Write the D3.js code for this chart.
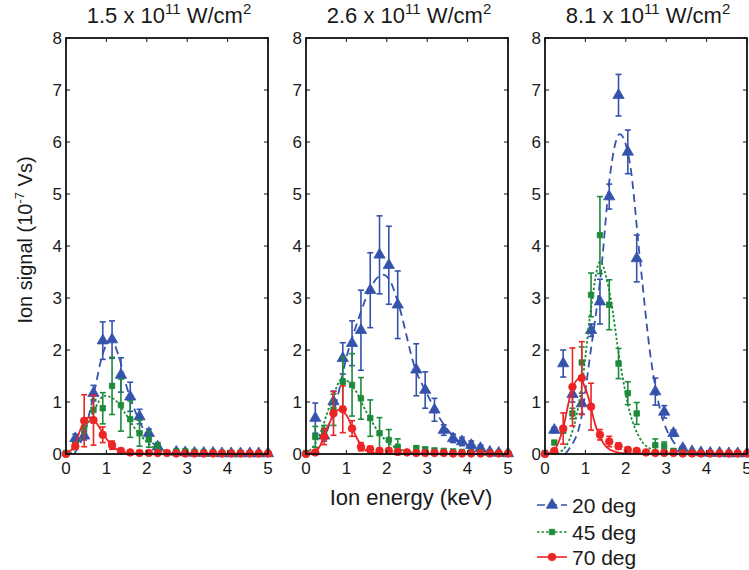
<!DOCTYPE html>
<html>
<head>
<meta charset="utf-8">
<script src="https://cdn.jsdelivr.net/npm/d3@7"></script>
<style>
body { margin: 0; background: #fff; }
text { font-family: "Liberation Sans", Arial, Helvetica, sans-serif; fill: #1a1a1a; }
</style>
</head>
<body>
<svg id="chart" width="749" height="570"></svg>
<script>
// ion energy grid (keV), shared by all panels
var energy = [0, 0.23, 0.45, 0.68, 0.91, 1.14, 1.36, 1.59, 1.82, 2.05, 2.27, 2.5, 2.73, 2.95, 3.18, 3.41, 3.64, 3.86, 4.09, 4.32, 4.55, 4.77, 5.0];

var panelIntensity = ["1.5", "2.6", "8.1"];
var xTicks = [0, 1, 2, 3, 4, 5];
var yTicks = [0, 1, 2, 3, 4, 5, 6, 7, 8];
var seriesNames = ["20 deg", "45 deg", "70 deg"];

// 1.5 x 10^11 W/cm^2
var blue15 = [null, 0.3, 0.35, 1.17, 2.18, 2.2, 1.52, 1.1, 0.72, 0.4, 0.14, null, 0.04, 0.03, 0.02, 0.02, 0.02, 0.01, 0.01, 0.01, 0.01, 0.01, 0.01];
var blueErr15 = [0, 0.08, 0.08, 0.15, 0.36, 0.36, 0.33, 0.28, 0.14, 0.08, 0.05, 0, 0.03, 0.02, 0.02, 0.02, 0.01, 0.01, 0.01, 0.01, 0.01, 0.01, 0.01];
var green15 = [0.02, 0.17, 0.5, 0.85, 0.88, 1.31, 0.94, 0.67, 0.4, 0.28, 0.14, null, 0.05, 0.05, 0.04, 0.03, 0.03, 0.02, 0.02, 0.02, 0.01, 0.01, 0.01];
var greenErr15 = [0, 0.05, 0.1, 0.2, 0.3, 0.55, 0.5, 0.35, 0.25, 0.15, 0.08, 0, 0.03, 0.03, 0.02, 0.02, 0.02, 0.01, 0.01, 0.01, 0.01, 0.01, 0.01];
var red15 = [0, 0.15, 0.64, 0.65, 0.37, 0.17, 0.06, 0.03, 0.02, 0.02, 0.02, 0.02, 0.01, 0.01, 0.01, 0.01, 0.01, 0.01, 0.01, 0.01, 0.01, 0.01, 0.01];
var redErr15 = [0, 0.05, 0.5, 0.48, 0.15, 0.08, 0.03, 0.02, 0.02, 0.02, 0.01, 0.01, 0.01, 0.01, 0.01, 0.01, 0.01, 0.01, 0.01, 0.01, 0.01, 0.01, 0.01];
var blueFit15 = [[0.2, 0], [0.45, 0.4], [0.7, 1.2], [0.9, 1.9], [1.1, 2.2], [1.3, 1.9], [1.5, 1.3], [1.7, 0.85], [1.9, 0.5], [2.1, 0.25], [2.4, 0.08], [2.7, 0.01], [5, 0]];
var greenFit15 = [[0.1, 0], [0.4, 0.35], [0.7, 0.85], [0.95, 1.12], [1.2, 1.05], [1.45, 0.8], [1.7, 0.5], [1.95, 0.27], [2.2, 0.11], [2.5, 0.03], [2.8, 0], [5, 0]];
var redFit15 = [[0, 0], [0.2, 0.15], [0.4, 0.55], [0.55, 0.7], [0.75, 0.6], [0.95, 0.35], [1.15, 0.15], [1.35, 0.05], [1.6, 0.01], [2, 0], [5, 0]];

// 2.6 x 10^11 W/cm^2
var blue26 = [null, 0.69, 0.35, 1.01, 1.84, 2.13, 2.38, 3.15, 3.83, 3.63, 2.87, null, 1.62, 1.23, 0.85, 0.46, 0.3, 0.24, 0.17, 0.11, 0.04, 0.02, 0.01];
var blueErr26 = [0, 0.29, 0.1, 0.2, 0.3, 0.43, 0.77, 0.72, 0.75, 0.75, 0.65, 0, 0.5, 0.35, 0.22, 0.1, 0.08, 0.08, 0.08, 0.06, 0.04, 0.03, 0.02];
var green26 = [0.02, 0.33, 0.45, 0.85, 1.39, 1.33, 1.07, 0.69, 0.4, 0.27, 0.14, null, 0.11, 0.09, 0.07, 0.06, 0.05, 0.04, 0.03, 0.03, 0.02, 0.02, 0.01];
var greenErr26 = [0, 0.2, 0.1, 0.3, 0.48, 0.6, 0.4, 0.35, 0.3, 0.2, 0.15, 0, 0.05, 0.04, 0.03, 0.03, 0.02, 0.02, 0.02, 0.02, 0.01, 0.01, 0.01];
var red26 = [0, 0.03, 0.33, 0.78, 0.86, 0.49, 0.14, 0.09, 0.06, 0.06, 0.04, 0.03, 0.02, 0.02, 0.02, 0.02, 0.01, 0.01, 0.01, 0.01, 0.01, 0.01, 0.01];
var redErr26 = [0, 0.02, 0.15, 0.42, 0.45, 0.15, 0.08, 0.06, 0.05, 0.05, 0.03, 0.02, 0.02, 0.02, 0.01, 0.01, 0.01, 0.01, 0.01, 0.01, 0.01, 0.01, 0.01];
var blueFit26 = [[0.2, 0], [0.5, 0.4], [0.75, 1.0], [1.0, 1.85], [1.3, 2.6], [1.6, 3.2], [1.9, 3.45], [2.1, 3.3], [2.3, 2.85], [2.7, 1.65], [3.0, 1.15], [3.3, 0.7], [3.7, 0.3], [4.2, 0.1], [4.8, 0.01], [5, 0]];
var greenFit26 = [[0, 0], [0.3, 0.3], [0.6, 0.95], [0.9, 1.45], [1.2, 1.25], [1.5, 0.8], [1.8, 0.42], [2.1, 0.18], [2.5, 0.05], [2.9, 0], [5, 0]];
var redFit26 = [[0, 0], [0.3, 0.1], [0.55, 0.55], [0.8, 0.85], [1.0, 0.75], [1.2, 0.4], [1.4, 0.12], [1.6, 0.03], [2, 0], [5, 0]];

// 8.1 x 10^11 W/cm^2
var blue81 = [null, 0.46, 1.74, 1.15, 0.97, 2.38, 2.93, 4.95, 6.9, 5.81, 3.76, null, 1.2, 0.81, 0.4, 0.11, 0.05, 0.03, 0.02, 0.02, 0.01, 0.01, 0.01];
var blueErr81 = [0, 0.05, 0.26, 0.15, 0.2, 0.12, 0.43, 0.24, 0.4, 0.42, 0.45, 0, 0.26, 0.12, 0.06, 0.04, 0.02, 0.02, 0.01, 0.01, 0.01, 0.01, 0.01];
var green81 = [0.02, 0.22, 0.45, 0.78, 1.76, 3.06, 4.21, 2.87, 1.74, 1.17, 0.78, null, 0.17, 0.15, 0.06, 0.03, 0.02, 0.01, 0.01, 0.01, 0.01, 0.01, 0.01];
var greenErr81 = [0, 0.03, 0.05, 0.1, 0.3, 0.42, 0.74, 0.48, 0.29, 0.22, 0.21, 0, 0.12, 0.08, 0.04, 0.02, 0.01, 0.01, 0.01, 0.01, 0.01, 0.01, 0.01];
var red81 = [0, 0.06, 0.49, 1.29, 1.46, 0.91, 0.37, 0.24, 0.15, 0.08, 0.06, 0.03, 0.02, 0.02, 0.02, 0.01, 0.01, 0.01, 0.01, 0.01, 0.01, 0.01, 0.01];
var redErr81 = [0, 0.03, 0.3, 0.75, 0.7, 0.45, 0.1, 0.1, 0.06, 0.05, 0.04, 0.02, 0.02, 0.01, 0.01, 0.01, 0.01, 0.01, 0.01, 0.01, 0.01, 0.01, 0.01];
var blueFit81 = [[0.5, 0], [0.6, 0.1], [0.9, 0.7], [1.1, 1.8], [1.4, 3.6], [1.6, 5.3], [1.85, 6.15], [2.1, 5.6], [2.35, 3.75], [2.6, 1.95], [2.85, 0.85], [3.15, 0.27], [3.45, 0.08], [3.8, 0.01], [5, 0]];
var greenFit81 = [[0.3, 0], [0.6, 0.27], [0.91, 1.3], [1.14, 2.8], [1.36, 3.7], [1.6, 3.1], [1.86, 1.75], [2.1, 0.8], [2.35, 0.3], [2.65, 0.08], [3.0, 0], [5, 0]];
var redFit81 = [[0, 0], [0.2, 0.05], [0.45, 0.5], [0.65, 1.2], [0.85, 1.45], [1.05, 1.15], [1.25, 0.55], [1.45, 0.2], [1.7, 0.05], [2.0, 0.01], [5, 0]];

var colors = { blue: "#3552ad", green: "#1d8a3c", red: "#ec2423" };

var panels = [
    { left: 66, intensity: panelIntensity[0],
      series: [
        { color: colors.blue, shape: "tri", dash: "8,5", values: blue15, err: blueErr15, fit: blueFit15 },
        { color: colors.green, shape: "sq", dash: "2.5,2", values: green15, err: greenErr15, fit: greenFit15 },
        { color: colors.red, shape: "circ", dash: null, values: red15, err: redErr15, fit: redFit15 } ] },
    { left: 306, intensity: panelIntensity[1],
      series: [
        { color: colors.blue, shape: "tri", dash: "8,5", values: blue26, err: blueErr26, fit: blueFit26 },
        { color: colors.green, shape: "sq", dash: "2.5,2", values: green26, err: greenErr26, fit: greenFit26 },
        { color: colors.red, shape: "circ", dash: null, values: red26, err: redErr26, fit: redFit26 } ] },
    { left: 545, intensity: panelIntensity[2],
      series: [
        { color: colors.blue, shape: "tri", dash: "8,5", values: blue81, err: blueErr81, fit: blueFit81 },
        { color: colors.green, shape: "sq", dash: "2.5,2", values: green81, err: greenErr81, fit: greenFit81 },
        { color: colors.red, shape: "circ", dash: null, values: red81, err: redErr81, fit: redFit81 } ] }
];

var svg = d3.select("#chart");
var plotTop = 38, plotBottom = 454, panelWidth = 202;

var y = d3.scaleLinear().domain([0, 8]).range([plotBottom, plotTop]);

var symbols = {
    tri: d3.symbol().type(d3.symbolTriangle).size(55),
    sq: d3.symbol().type(d3.symbolSquare).size(30),
    circ: d3.symbol().type(d3.symbolCircle).size(46)
};

function drawMarker(g, shape, color, cx, cy)
{
    g.append("path")
        .attr("d", symbols[shape]())
        .attr("transform", "translate(" + cx + "," + cy + ")")
        .attr("fill", color)
        .attr("stroke", color)
        .attr("stroke-width", 0.8);
}

function drawPanel(p)
{
    var x = d3.scaleLinear().domain([0, 5]).range([p.left, p.left + panelWidth]);
    var g = svg.append("g");

    var line = d3.line()
        .x(function (d) { return x(d[0]); })
        .y(function (d) { return y(d[1]); })
        .curve(d3.curveMonotoneX);

    for (const s of p.series)
    {
        g.append("path")
            .datum(s.fit)
            .attr("d", line)
            .attr("fill", "none")
            .attr("stroke", s.color)
            .attr("stroke-width", 1.8)
            .attr("stroke-dasharray", s.dash);

        energy.forEach(function (e, i)
        {
            var v = s.values[i];
            if (v === null) return;
            var err = s.err[i];
            var cx = x(e);
            if (err > 0.03)
            {
                g.append("line")
                    .attr("x1", cx).attr("x2", cx)
                    .attr("y1", y(v - err)).attr("y2", y(v + err))
                    .attr("stroke", s.color).attr("stroke-width", 1.6);
                [v - err, v + err].forEach(function (yy)
                {
                    g.append("line")
                        .attr("x1", cx - 3).attr("x2", cx + 3)
                        .attr("y1", y(yy)).attr("y2", y(yy))
                        .attr("stroke", s.color).attr("stroke-width", 1.6);
                });
            }
            drawMarker(g, s.shape, s.color, cx, y(v));
        });
    }

    // box with inward ticks, matlab style
    var ax = svg.append("g");
    ax.append("rect")
        .attr("x", p.left).attr("y", plotTop)
        .attr("width", panelWidth).attr("height", plotBottom - plotTop)
        .attr("fill", "none").attr("stroke", "#111").attr("stroke-width", 1.8);

    xTicks.forEach(function (t)
    {
        ax.append("line").attr("x1", x(t)).attr("x2", x(t)).attr("y1", plotBottom).attr("y2", plotBottom - 4)
            .attr("stroke", "#111").attr("stroke-width", 1);
        ax.append("line").attr("x1", x(t)).attr("x2", x(t)).attr("y1", plotTop).attr("y2", plotTop + 4)
            .attr("stroke", "#111").attr("stroke-width", 1);
        ax.append("text")
            .attr("x", x(t)).attr("y", plotBottom + 20)
            .attr("text-anchor", "middle")
            .style("font-size", "17px")
            .text(t);
    });

    yTicks.forEach(function (t)
    {
        ax.append("line").attr("x1", p.left).attr("x2", p.left + 4).attr("y1", y(t)).attr("y2", y(t))
            .attr("stroke", "#111").attr("stroke-width", 1);
        ax.append("line").attr("x1", p.left + panelWidth).attr("x2", p.left + panelWidth - 4).attr("y1", y(t)).attr("y2", y(t))
            .attr("stroke", "#111").attr("stroke-width", 1);
        ax.append("text")
            .attr("x", p.left - 4).attr("y", y(t))
            .attr("dy", "0.36em")
            .attr("text-anchor", "end")
            .style("font-size", "17px")
            .text(t);
    });

    var title = svg.append("text")
        .attr("x", p.left + panelWidth / 2 + 2).attr("y", 23)
        .attr("text-anchor", "middle")
        .style("font-size", "22px");
    title.append("tspan").text(p.intensity + " x 10");
    title.append("tspan").attr("dy", -9).style("font-size", "15px").text("11");
    title.append("tspan").attr("dy", 9).text(" W/cm");
    title.append("tspan").attr("dy", -9).style("font-size", "15px").text("2");
}

panels.forEach(drawPanel);

// axis titles
var yTitle = svg.append("text")
    .attr("transform", "translate(32,240) rotate(-90)")
    .attr("text-anchor", "middle")
    .style("font-size", "20px");
yTitle.append("tspan").text("Ion signal (10");
yTitle.append("tspan").attr("dy", -8).style("font-size", "13px").text("-7");
yTitle.append("tspan").attr("dy", 8).text(" Vs)");

svg.append("text")
    .attr("x", 411).attr("y", 505)
    .attr("text-anchor", "middle")
    .style("font-size", "22px")
    .text("Ion energy (keV)");

// legend
var legendY = [505, 532, 557];
panels[0].series.forEach(function (s, i)
{
    var ly = legendY[i];
    svg.append("line")
        .attr("x1", 537).attr("x2", 567).attr("y1", ly).attr("y2", ly)
        .attr("stroke", s.color).attr("stroke-width", 1.6)
        .attr("stroke-dasharray", s.dash ? (i === 0 ? "8,4" : "2.5,2") : null);
    drawMarker(svg, s.shape, s.color, 552, ly);
    svg.append("text")
        .attr("x", 572).attr("y", ly)
        .attr("dy", "0.36em")
        .style("font-size", "21px")
        .text(seriesNames[i]);
});
</script>
</body>
</html>
